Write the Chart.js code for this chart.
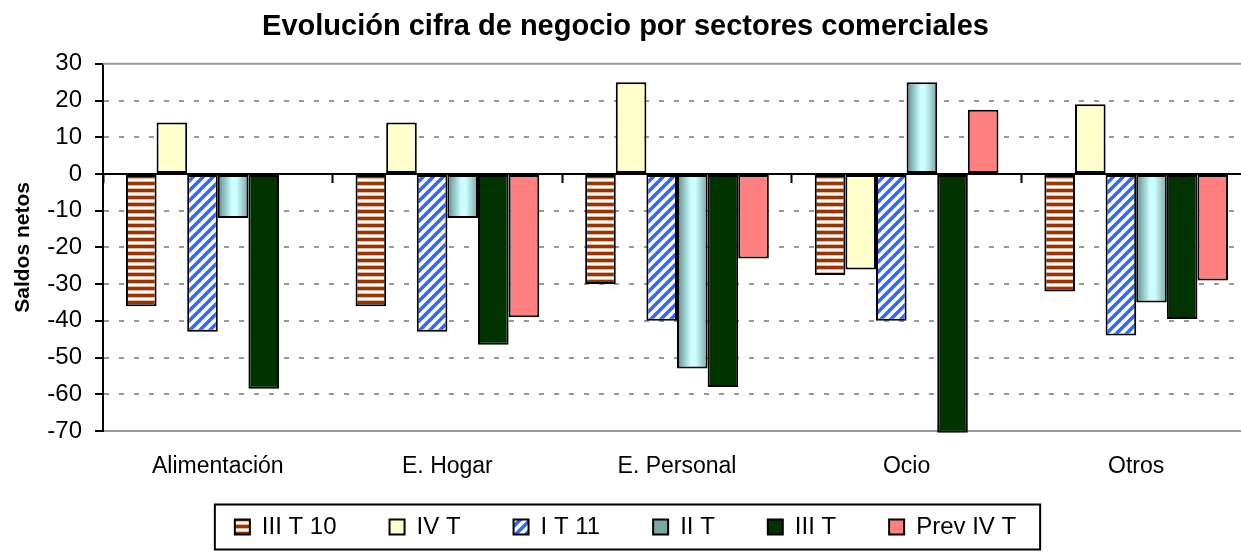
<!DOCTYPE html>
<html>
<head>
<meta charset="utf-8">
<script src="https://cdn.jsdelivr.net/npm/chart.js@4.4.0/dist/chart.umd.min.js"></script>
<style>
  html, body { margin: 0; padding: 0; background: #fff; overflow: hidden; width: 1241px; height: 554px; }
</style>
</head>
<body>
<canvas id="chart_sectores" width="1251" height="554"></canvas>
<script>
// datos
const categories = ['Alimentación', 'E. Hogar', 'E. Personal', 'Ocio', 'Otros'];
const seriesNames = ['III T 10', 'IV T', 'I T 11', 'II T', 'III T', 'Prev IV T'];
const iiiT10 = [-36, -36, -30, -27.5, -32];
const ivT = [14, 14, 25, -26, 19];
const iT11 = [-43, -43, -40, -40, -44];
const iiT = [-12, -12, -53, 25, -35];
const iiiT = [-58.5, -46.5, -58, -70.5, -39.5];
const prevIvT = [null, -39, -23, 17.5, -29];
const yMin = -70, yMax = 30, yStep = 10;

const chart_sectores = document.getElementById('chart_sectores');
Chart.defaults.font.family = "'Liberation Sans', Arial, sans-serif";
Chart.defaults.color = '#000';

// rayas horizontales marron
const rayasMarron = () => {
  const c = document.createElement('canvas');
  c.width = 4; c.height = 7;
  const g = c.getContext('2d');
  g.fillStyle = '#fff'; g.fillRect(0, 0, 4, 7);
  g.fillStyle = '#993300'; g.fillRect(0, 0, 4, 3);
  g.fillStyle = '#E2B8A2'; g.fillRect(0, 3, 4, 1); g.fillRect(0, 6, 4, 1);
  return g.createPattern(c, 'repeat');
};

// rayas diagonales azules
const rayasAzules = () => {
  const c = document.createElement('canvas');
  c.width = 10; c.height = 10;
  const g = c.getContext('2d');
  g.fillStyle = '#fff'; g.fillRect(0, 0, 10, 10);
  g.strokeStyle = '#3366FF'; g.lineWidth = 3.5;
  [-10, 0, 10].forEach(o => {
    g.beginPath(); g.moveTo(o - 1, 11); g.lineTo(o + 11, -1); g.stroke();
  });
  return g.createPattern(c, 'repeat');
};

// degradado cian por barra
const degradadoII = (c) => {
  const chart = c.chart;
  const xs = chart.scales.x;
  if (c.type !== 'data' || !xs || !chart.chartArea) return '#A8DCDC';
  const catW = xs.width / categories.length;
  const barW = catW * 0.8 / seriesNames.length;
  const left = xs.getPixelForValue(c.dataIndex) - catW * 0.4 + c.datasetIndex * barW;
  if (!Number.isFinite(left) || !Number.isFinite(barW) || barW <= 0) return '#A8DCDC';
  const g = chart.ctx.createLinearGradient(left, 0, left + barW, 0);
  g.addColorStop(0, '#5C8A8A');
  g.addColorStop(0.45, '#CCFFFF');
  g.addColorStop(0.6, '#CCFFFF');
  g.addColorStop(1, '#7AA6A6');
  return g;
};

const marco = {
  id: 'marco',
  beforeDatasetsDraw(chart) {
    const {ctx, chartArea} = chart;
    ctx.save();
    ctx.strokeStyle = '#999'; ctx.lineWidth = 2;
    ctx.beginPath(); ctx.moveTo(chartArea.left, chartArea.top); ctx.lineTo(chartArea.right, chartArea.top); ctx.stroke();
    ctx.restore();
  },
  afterDraw(chart) {
    const {ctx, legend} = chart;
    const boxes = legend.legendHitBoxes;
    if (!boxes || !boxes.length) return;
    const first = boxes[0], last = boxes[boxes.length - 1];
    const left = first.left - 20, right = last.left + last.width + 24;
    const top = first.top + first.height / 2 - 22.5;
    ctx.save();
    ctx.strokeStyle = '#000'; ctx.lineWidth = 2;
    ctx.strokeRect(left, top, right - left, 45);
    ctx.restore();
  }
};

const serie = (i, data, color) => ({
  label: seriesNames[i],
  data: data,
  backgroundColor: color,
  borderColor: '#000',
  borderWidth: 2,
  borderSkipped: false,
  clip: false
});

new Chart(chart_sectores, {
  type: 'bar',
  data: {
    labels: categories,
    datasets: [
      serie(0, iiiT10, rayasMarron()),
      serie(1, ivT, '#FFFFCC'),
      serie(2, iT11, rayasAzules()),
      serie(3, iiT, degradadoII),
      serie(4, iiiT, '#003300'),
      serie(5, prevIvT, '#FF8080')
    ]
  },
  options: {
    responsive: false,
    animation: false,
    categoryPercentage: 0.8,
    barPercentage: 1,
    layout: { padding: { bottom: 5 } },
    scales: {
      x: {
        offset: true,
        grid: { display: false, drawTicks: false },
        border: { display: true, color: '#999', width: 2 },
        // mirror evita el recorte de las etiquetas; padding negativo las baja
        ticks: { font: { size: 23 }, color: '#000', padding: -49, mirror: true, maxRotation: 0, autoSkip: false },
        afterFit: s => { s.height = 31; }
      },
      x2: {
        type: 'category',
        position: { y: 0 },
        offset: true,
        grid: { offset: true, drawOnChartArea: false, drawTicks: true, tickLength: 8, tickColor: '#000', tickWidth: 2 },
        border: { color: '#000', width: 2 },
        ticks: { display: false }
      },
      y: {
        min: yMin,
        max: yMax,
        ticks: { stepSize: yStep, font: { size: 24 }, color: '#000', padding: 13 },
        grid: {
          color: c => (c.tick && [yMin, 0, yMax].includes(c.tick.value)) ? 'rgba(0,0,0,0)' : '#999',
          lineWidth: 2,
          tickColor: '#000',
          tickLength: 8,
          tickWidth: 2
        },
        border: { color: '#000', width: 2, dash: [5, 10] },
        title: { display: true, text: 'Saldos netos', font: { size: 21, weight: 'bold' }, color: '#000', padding: { top: 11, bottom: 0 } },
        afterFit: s => { s.width = 103; }
      }
    },
    plugins: {
      title: {
        display: true,
        text: 'Evolución cifra de negocio por sectores comerciales',
        font: { size: 29, weight: 'bold' },
        color: '#000',
        padding: { top: 10, bottom: 19 }
      },
      legend: {
        position: 'bottom',
        labels: { font: { size: 24 }, color: '#000', boxWidth: 15, boxHeight: 15, padding: 53 }
      },
      tooltip: { enabled: false }
    }
  },
  plugins: [marco]
});
</script>
</body>
</html>
